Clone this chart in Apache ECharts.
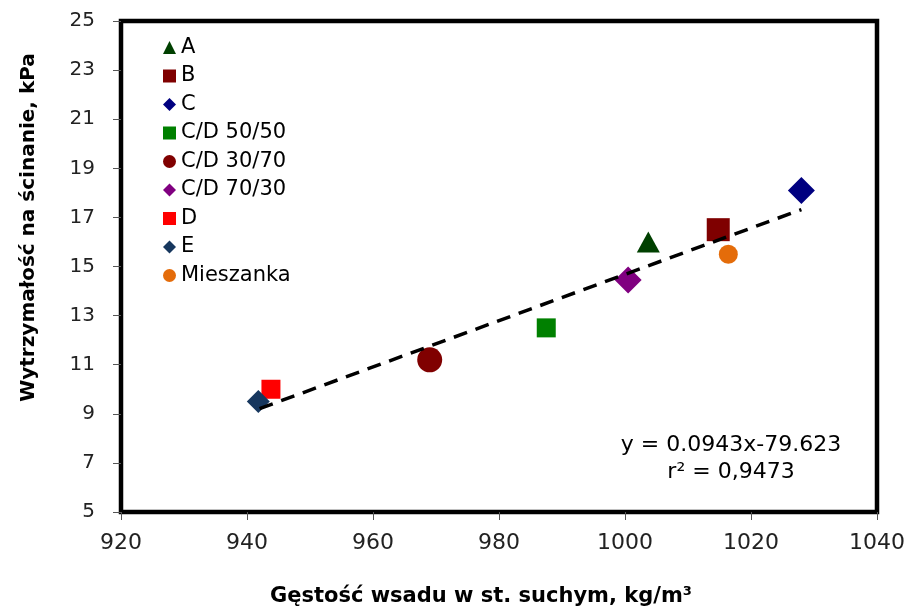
<!DOCTYPE html>
<html>
<head>
<meta charset="utf-8">
<script src="https://cdn.jsdelivr.net/npm/echarts@6/dist/echarts.min.js"></script>
<style>html,body{margin:0;padding:0;background:#fff}#c{width:910px;height:612px}</style>
</head>
<body>
<div id="c"></div>
<script>
// --- data ---
const seriesNames = ['A', 'B', 'C', 'C/D 50/50', 'C/D 30/70', 'C/D 70/30', 'D', 'E', 'Mieszanka'];
const densityX = [1003.7, 1014.8, 1028.0, 987.5, 969.0, 1000.5, 943.8, 941.8, 1016.4];
const strengthY = [16.0, 16.5, 18.1, 12.5, 11.2, 14.45, 10.0, 9.5, 15.5];
const trendX = [942, 1028];
const trendY = [9.21, 17.32];
const xTicks = [920, 940, 960, 980, 1000, 1020, 1040];
const yTicks = [5, 7, 9, 11, 13, 15, 17, 19, 21, 23, 25];
const equationText = 'y = 0.0943x-79.623';
const r2Text = 'r\u00B2 = 0,9473';
const xTitle = 'G\u0119sto\u015B\u0107 wsadu w st. suchym, kg/m\u00B3';
const yTitle = 'Wytrzyma\u0142o\u015B\u0107 na \u015Bcinanie, kPa';

// --- styles ---
const symbols = ['triangle', 'rect', 'diamond', 'rect', 'circle', 'diamond', 'rect', 'diamond', 'circle'];
const sizes = [[23, 21], 23, 27, 19, 25, 27, 19, 23, 19];
const colors = ['#004000', '#7F0000', '#000080', '#008000', '#800000', '#800080', '#FF0000', '#17375E', '#E46C0A'];
const FONT = 'DejaVu Sans';

const chart = echarts.init(document.getElementById('c'), null, {renderer: 'canvas'});
const series = seriesNames.map((n, i) => ({
  name: n,
  type: 'scatter',
  symbol: symbols[i],
  symbolSize: sizes[i],
  itemStyle: {color: colors[i], opacity: 1},
  data: [[densityX[i], strengthY[i]]],
  yAxisIndex: 0,
  z: 3
}));
series.push({
  name: 'trend',
  type: 'line',
  data: trendX.map((x, i) => [x, trendY[i]]),
  symbol: 'none',
  yAxisIndex: 0,
  lineStyle: {color: '#000', width: 3.5, type: [14, 9]},
  z: 4,
  silent: true
});

const yMin = yTicks[0], yMax = yTicks[yTicks.length - 1];

chart.setOption({
  animation: false,
  backgroundColor: '#fff',
  grid: {left: 121, right: 33, top: 21, bottom: 100, show: true, borderColor: '#000', borderWidth: 4.5, backgroundColor: 'transparent'},
  xAxis: {
    type: 'value', min: xTicks[0], max: xTicks[xTicks.length - 1], interval: 20,
    splitLine: {show: false},
    axisLine: {show: false},
    axisTick: {show: true, inside: false, length: 8, lineStyle: {color: '#555', width: 1}},
    axisLabel: {fontFamily: FONT, fontSize: 22, color: '#222', margin: 20, formatter: v => String(v)},
    name: xTitle, nameLocation: 'middle', nameGap: 74,
    nameTextStyle: {fontFamily: FONT, fontSize: 21, fontWeight: 'bold', color: '#000', padding: [0, 36, 0, 0]}
  },
  yAxis: [
    {
      type: 'value', position: 'left', min: yMin, max: yMax, interval: 2,
      splitLine: {show: false},
      axisLine: {show: false},
      axisTick: {show: true, inside: false, length: 8, lineStyle: {color: '#555', width: 1}},
      axisLabel: {show: false},
      name: yTitle, nameLocation: 'middle', nameGap: 82, nameRotate: 90,
      nameTextStyle: {fontFamily: FONT, fontSize: 20, fontWeight: 'bold', color: '#000', padding: [0, 0, 0, 78]}
    },
    {
      type: 'value', position: 'left', offset: 20, min: yMin, max: yMax, interval: 2,
      splitLine: {show: false},
      axisLine: {show: false},
      axisTick: {show: false},
      axisLabel: {fontFamily: FONT, fontSize: 20, color: '#222', margin: 6, formatter: v => String(v)}
    }
  ],
  legend: {
    data: seriesNames,
    orient: 'vertical', left: 163, top: 37, padding: 0,
    itemWidth: 13, itemHeight: 13, itemGap: 7.5,
    textStyle: {fontFamily: FONT, fontSize: 21, color: '#000'},
    selectedMode: false
  },
  graphic: [
    {type: 'text', x: 731, y: 445, style: {text: equationText, font: '22px "DejaVu Sans"', fill: '#000', align: 'center', verticalAlign: 'middle'}},
    {type: 'text', x: 731, y: 472, style: {text: r2Text, font: '22px "DejaVu Sans"', fill: '#000', align: 'center', verticalAlign: 'middle'}}
  ],
  series: series
});
</script>
</body>
</html>
